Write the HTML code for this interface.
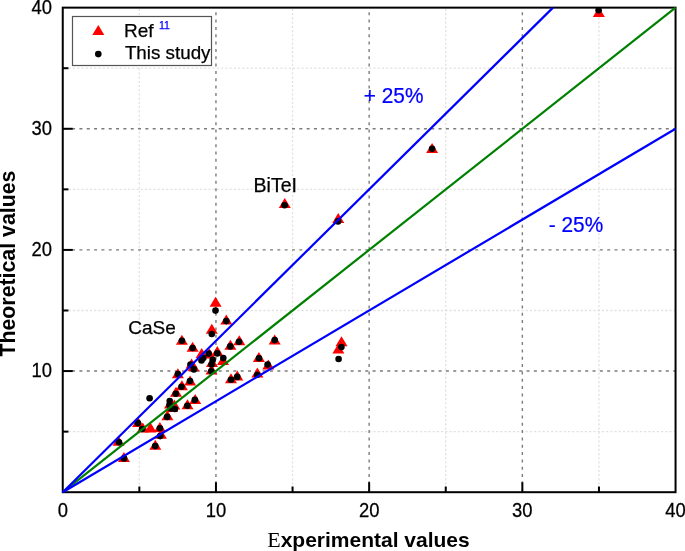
<!DOCTYPE html><html><head><meta charset="utf-8"><style>
html,body{margin:0;padding:0;background:#fff;}
body{width:685px;height:551px;overflow:hidden;}
svg{display:block;will-change:transform;}
text{font-family:"Liberation Sans",sans-serif;stroke-width:0.25px;}
</style></head><body>
<svg width="685" height="551" viewBox="0 0 685 551">
<rect x="0" y="0" width="685" height="551" fill="#fff"/>
<g stroke="#e2e2e2" stroke-width="1.3" stroke-dasharray="2.2 2.03" fill="none">
<line x1="139.35" y1="492.20" x2="139.35" y2="7.64" stroke-dashoffset="1.0"/>
<line x1="62.75" y1="431.63" x2="675.55" y2="431.63" stroke-dashoffset="-1.8"/>
<line x1="292.55" y1="492.20" x2="292.55" y2="7.64" stroke-dashoffset="1.0"/>
<line x1="62.75" y1="310.49" x2="675.55" y2="310.49" stroke-dashoffset="-1.8"/>
<line x1="445.75" y1="492.20" x2="445.75" y2="7.64" stroke-dashoffset="1.0"/>
<line x1="62.75" y1="189.35" x2="675.55" y2="189.35" stroke-dashoffset="-1.8"/>
<line x1="598.95" y1="492.20" x2="598.95" y2="7.64" stroke-dashoffset="1.0"/>
<line x1="62.75" y1="68.21" x2="675.55" y2="68.21" stroke-dashoffset="-1.8"/>
</g>
<g stroke="#7c7c7c" stroke-width="1.4" stroke-dasharray="3 4.33" fill="none">
<line x1="215.95" y1="492.20" x2="215.95" y2="7.64" stroke-dashoffset="-0.5"/>
<line x1="62.75" y1="371.06" x2="675.55" y2="371.06" stroke-dashoffset="-2"/>
<line x1="369.15" y1="492.20" x2="369.15" y2="7.64" stroke-dashoffset="-0.5"/>
<line x1="62.75" y1="249.92" x2="675.55" y2="249.92" stroke-dashoffset="-2"/>
<line x1="522.35" y1="492.20" x2="522.35" y2="7.64" stroke-dashoffset="-0.5"/>
<line x1="62.75" y1="128.78" x2="675.55" y2="128.78" stroke-dashoffset="-2"/>
</g>
<rect x="72.5" y="16.5" width="139" height="49" fill="#fff" stroke="#555" stroke-width="1.2"/>
<polygon points="98.3,25 92.3,35 104.3,35" fill="#ff0000"/>
<circle cx="98.3" cy="54.1" r="3.3" fill="#000"/>
<text x="124" y="37.4" font-size="19" fill="#000" stroke="#000">Ref</text>
<text x="159" y="28.9" font-size="10.5" fill="#0000ff" stroke="#0000ff">11</text>
<text x="124.9" y="59.3" font-size="18.8" fill="#000" stroke="#000">This study</text>
<g fill="#ff0000">
<polygon points="598.85,7.00 592.85,17.00 604.85,17.00"/>
<polygon points="432.10,143.10 426.10,153.10 438.10,153.10"/>
<polygon points="284.75,197.90 278.75,207.90 290.75,207.90"/>
<polygon points="338.25,212.90 332.25,222.90 344.25,222.90"/>
<polygon points="341.50,336.20 335.50,346.20 347.50,346.20"/>
<polygon points="338.40,343.50 332.40,353.50 344.40,353.50"/>
<polygon points="118.50,435.80 112.50,445.80 124.50,445.80"/>
<polygon points="123.90,451.90 117.90,461.90 129.90,461.90"/>
<polygon points="138.00,417.00 132.00,427.00 144.00,427.00"/>
<polygon points="142.80,422.50 136.80,432.50 148.80,432.50"/>
<polygon points="150.50,422.50 144.50,432.50 156.50,432.50"/>
<polygon points="159.90,421.90 153.90,431.90 165.90,431.90"/>
<polygon points="160.90,428.70 154.90,438.70 166.90,438.70"/>
<polygon points="155.30,439.80 149.30,449.80 161.30,449.80"/>
<polygon points="167.40,410.20 161.40,420.20 173.40,420.20"/>
<polygon points="177.90,368.20 171.90,378.20 183.90,378.20"/>
<polygon points="190.10,375.60 184.10,385.60 196.10,385.60"/>
<polygon points="181.90,380.30 175.90,390.30 187.90,390.30"/>
<polygon points="176.00,386.80 170.00,396.80 182.00,396.80"/>
<polygon points="187.50,399.30 181.50,409.30 193.50,409.30"/>
<polygon points="170.00,398.50 164.00,408.50 176.00,408.50"/>
<polygon points="174.30,399.60 168.30,409.60 180.30,409.60"/>
<polygon points="172.00,402.00 166.00,412.00 178.00,412.00"/>
<polygon points="195.20,394.10 189.20,404.10 201.20,404.10"/>
<polygon points="192.60,341.70 186.60,351.70 198.60,351.70"/>
<polygon points="201.70,348.10 195.70,358.10 207.70,358.10"/>
<polygon points="209.50,348.50 203.50,358.50 215.50,358.50"/>
<polygon points="217.30,345.90 211.30,355.90 223.30,355.90"/>
<polygon points="212.00,357.00 206.00,367.00 218.00,367.00"/>
<polygon points="223.00,355.00 217.00,365.00 229.00,365.00"/>
<polygon points="191.60,358.50 185.60,368.50 197.60,368.50"/>
<polygon points="193.50,361.30 187.50,371.30 199.50,371.30"/>
<polygon points="211.50,364.50 205.50,374.50 217.50,374.50"/>
<polygon points="230.40,339.80 224.40,349.80 236.40,349.80"/>
<polygon points="258.90,352.00 252.90,362.00 264.90,362.00"/>
<polygon points="268.30,359.60 262.30,369.60 274.30,369.60"/>
<polygon points="257.40,367.60 251.40,377.60 263.40,377.60"/>
<polygon points="237.30,370.40 231.30,380.40 243.30,380.40"/>
<polygon points="231.00,373.30 225.00,383.30 237.00,383.30"/>
<polygon points="215.60,296.70 209.60,306.70 221.60,306.70"/>
<polygon points="226.30,314.50 220.30,324.50 232.30,324.50"/>
<polygon points="211.80,323.70 205.80,333.70 217.80,333.70"/>
<polygon points="239.30,335.30 233.30,345.30 245.30,345.30"/>
<polygon points="181.90,334.80 175.90,344.80 187.90,344.80"/>
<polygon points="274.70,334.50 268.70,344.50 280.70,344.50"/>
</g>
<g fill="#000">
<circle cx="598.60" cy="10.30" r="3.3"/>
<circle cx="432.10" cy="148.70" r="3.3"/>
<circle cx="284.60" cy="205.30" r="3.3"/>
<circle cx="338.00" cy="221.40" r="3.3"/>
<circle cx="341.40" cy="347.00" r="3.3"/>
<circle cx="338.60" cy="359.00" r="3.3"/>
<circle cx="119.00" cy="442.20" r="3.3"/>
<circle cx="124.00" cy="458.40" r="3.3"/>
<circle cx="149.60" cy="398.20" r="3.3"/>
<circle cx="137.85" cy="423.10" r="3.3"/>
<circle cx="142.10" cy="429.00" r="3.3"/>
<circle cx="159.90" cy="428.20" r="3.3"/>
<circle cx="160.25" cy="436.10" r="3.3"/>
<circle cx="155.20" cy="446.10" r="3.3"/>
<circle cx="167.15" cy="416.90" r="3.3"/>
<circle cx="177.90" cy="374.10" r="3.3"/>
<circle cx="190.00" cy="381.00" r="3.3"/>
<circle cx="181.50" cy="386.70" r="3.3"/>
<circle cx="175.80" cy="393.70" r="3.3"/>
<circle cx="187.30" cy="405.70" r="3.3"/>
<circle cx="169.70" cy="401.10" r="3.3"/>
<circle cx="169.50" cy="405.00" r="3.3"/>
<circle cx="171.00" cy="408.50" r="3.3"/>
<circle cx="174.90" cy="409.00" r="3.3"/>
<circle cx="194.80" cy="399.90" r="3.3"/>
<circle cx="192.60" cy="348.00" r="3.3"/>
<circle cx="203.30" cy="358.00" r="3.3"/>
<circle cx="201.50" cy="360.50" r="3.3"/>
<circle cx="208.60" cy="353.60" r="3.3"/>
<circle cx="217.30" cy="353.40" r="3.3"/>
<circle cx="212.70" cy="359.90" r="3.3"/>
<circle cx="211.60" cy="364.50" r="3.3"/>
<circle cx="211.30" cy="371.30" r="3.3"/>
<circle cx="223.30" cy="358.10" r="3.3"/>
<circle cx="190.50" cy="364.50" r="3.3"/>
<circle cx="193.90" cy="369.40" r="3.3"/>
<circle cx="230.30" cy="346.40" r="3.3"/>
<circle cx="259.00" cy="358.30" r="3.3"/>
<circle cx="267.60" cy="364.50" r="3.3"/>
<circle cx="257.20" cy="374.80" r="3.3"/>
<circle cx="237.20" cy="376.90" r="3.3"/>
<circle cx="231.00" cy="379.70" r="3.3"/>
<circle cx="215.50" cy="310.60" r="3.3"/>
<circle cx="226.30" cy="321.10" r="3.3"/>
<circle cx="211.80" cy="334.00" r="3.3"/>
<circle cx="239.00" cy="341.80" r="3.3"/>
<circle cx="181.90" cy="340.80" r="3.3"/>
<circle cx="274.70" cy="340.10" r="3.3"/>
</g>
<rect x="62.75" y="7.64" width="612.80" height="484.56" fill="none" stroke="#000" stroke-width="2"/>
<g stroke="#000" stroke-width="2">
<line x1="215.95" y1="492.20" x2="215.95" y2="482.20"/>
<line x1="62.75" y1="371.06" x2="72.75" y2="371.06"/>
<line x1="369.15" y1="492.20" x2="369.15" y2="482.20"/>
<line x1="62.75" y1="249.92" x2="72.75" y2="249.92"/>
<line x1="522.35" y1="492.20" x2="522.35" y2="482.20"/>
<line x1="62.75" y1="128.78" x2="72.75" y2="128.78"/>
<line x1="139.35" y1="492.20" x2="139.35" y2="486.50"/>
<line x1="62.75" y1="431.63" x2="68.45" y2="431.63"/>
<line x1="292.55" y1="492.20" x2="292.55" y2="486.50"/>
<line x1="62.75" y1="310.49" x2="68.45" y2="310.49"/>
<line x1="445.75" y1="492.20" x2="445.75" y2="486.50"/>
<line x1="62.75" y1="189.35" x2="68.45" y2="189.35"/>
<line x1="598.95" y1="492.20" x2="598.95" y2="486.50"/>
<line x1="62.75" y1="68.21" x2="68.45" y2="68.21"/>
</g>
<line x1="62.75" y1="492.20" x2="675.55" y2="7.64" stroke="#008000" stroke-width="2.2"/>
<line x1="62.75" y1="492.20" x2="552.99" y2="7.64" stroke="#0000ff" stroke-width="2.2"/>
<line x1="62.75" y1="492.20" x2="675.55" y2="128.78" stroke="#0000ff" stroke-width="2.2"/>
<g font-size="19.4" fill="#000" stroke="#000">
<text transform="translate(62.75,517.1) scale(0.95,1)" text-anchor="middle">0</text>
<text transform="translate(215.95,517.1) scale(0.95,1)" text-anchor="middle">10</text>
<text transform="translate(369.15,517.1) scale(0.95,1)" text-anchor="middle">20</text>
<text transform="translate(522.35,517.1) scale(0.95,1)" text-anchor="middle">30</text>
<text transform="translate(675.55,517.1) scale(0.95,1)" text-anchor="middle">40</text>
<text transform="translate(52,377.06) scale(0.95,1)" text-anchor="end">10</text>
<text transform="translate(52,255.92) scale(0.95,1)" text-anchor="end">20</text>
<text transform="translate(52,134.78) scale(0.95,1)" text-anchor="end">30</text>
<text transform="translate(52,13.64) scale(0.95,1)" text-anchor="end">40</text>
</g>
<text transform="translate(363.8,103) scale(0.965,1)" font-size="21.6" fill="#0000ff" stroke="#0000ff">+ 25%</text>
<text transform="translate(548.8,232.3) scale(0.965,1)" font-size="21.6" fill="#0000ff" stroke="#0000ff">- 25%</text>
<text x="253.6" y="191.7" font-size="19.5" fill="#000" stroke="#000">BiTeI</text>
<text x="128.2" y="334" font-size="19" fill="#000" stroke="#000">CaSe</text>
<text transform="translate(15.0,356.5) rotate(-90)" font-size="21.3" font-weight="bold" fill="#000">Theoretical values</text>
<text x="267.2" y="546.6" font-size="21" fill="#000"><tspan font-family="Liberation Serif, serif" font-size="22">E</tspan><tspan font-weight="bold">xperimental values</tspan></text>
</svg></body></html>
